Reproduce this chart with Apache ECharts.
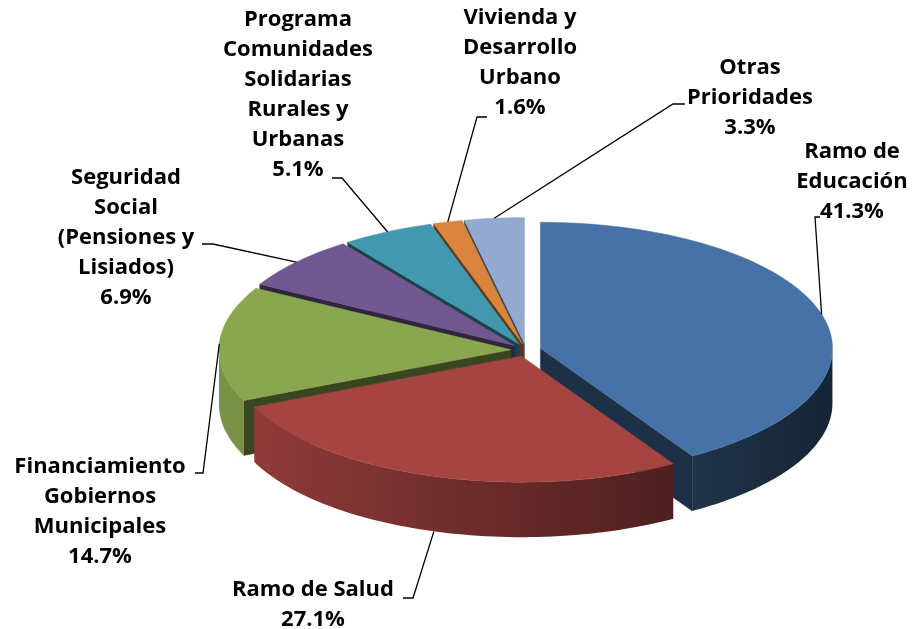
<!DOCTYPE html>
<html>
<head>
<meta charset="utf-8">
<script src="https://cdn.jsdelivr.net/npm/echarts@6/dist/echarts.min.js"></script>
<style>
  html, body { margin: 0; background: #fff; }
  #chart { width: 912px; height: 629px; }
</style>
</head>
<body>
<div id="chart"></div>
<script>
// categories (line breaks as in the chart labels) and their shares in %
const names = [
  'Ramo de\nEducación',
  'Ramo de Salud',
  'Financiamiento\nGobiernos\nMunicipales',
  'Seguridad\nSocial\n(Pensiones y\nLisiados)',
  'Programa\nComunidades\nSolidarias\nRurales y\nUrbanas',
  'Vivienda y\nDesarrollo\nUrbano',
  'Otras\nPrioridades'
];
const values = [41.3, 27.1, 14.7, 6.9, 5.1, 1.6, 3.3];
const colors = ['#4672a7', '#a64442', '#8aa64e', '#715891', '#4198af', '#db843d', '#93a9cf'];

// pseudo 3D pie geometry
const PIE = { cx: 526, cy: 350, rx: 292, ry: 126, depth: 55, explode: 15 };
const K = PIE.ry / PIE.rx;

// label placement: centre of text block + start of the leader line
const labelPos = [
  { x: 852, y: 182, line: [[820, 217], [815, 217]] },
  { x: 313, y: 605, line: [[403, 598], [413, 598]], bottom: true },
  { x: 100, y: 512, line: [[195, 473], [203, 473]] },
  { x: 126, y: 238, line: [[202, 244], [213, 244]] },
  { x: 298, y: 95, line: [[332, 178], [342, 178]] },
  { x: 520, y: 63, line: [[487, 117], [477, 117]] },
  { x: 750, y: 98, line: [[685, 104], [673, 104]] }
];

function shade(hex, f) {
  const n = parseInt(hex.slice(1), 16);
  const r = Math.round(((n >> 16) & 255) * f);
  const g = Math.round(((n >> 8) & 255) * f);
  const b = Math.round((n & 255) * f);
  return 'rgb(' + r + ',' + g + ',' + b + ')';
}

function rim(t, ox, oy, dz) {
  return [ox + PIE.rx * Math.sin(t), oy - PIE.ry * Math.cos(t) + dz];
}

function arc(t0, t1, ox, oy, dz) {
  const n = Math.max(2, Math.ceil((t1 - t0) / (Math.PI / 120)));
  const out = [];
  for (let j = 0; j <= n; j++) out.push(rim(t0 + (t1 - t0) * j / n, ox, oy, dz));
  return out;
}

const total = values.reduce((s, v) => s + v, 0);

function renderItem(params, api) {
  const i = params.dataIndex;
  const v = api.value(0);
  const before = values.slice(0, i).reduce((s, x) => s + x, 0);
  const a0 = before / total * Math.PI * 2;
  const a1 = (before + v) / total * Math.PI * 2;
  const am = (a0 + a1) / 2;
  const ox = PIE.cx + PIE.explode * Math.sin(am);
  const oy = PIE.cy - PIE.explode * Math.cos(am) * K;
  const D = PIE.depth;
  const col = colors[i];
  const children = [];

  // flat cut faces, only the ones turned to the viewer
  [[a0, a0 - Math.PI / 2], [a1, a1 + Math.PI / 2]].forEach(([t, nrm]) => {
    if (Math.cos(nrm) < -0.02) {
      const r = rim(t, ox, oy, 0);
      const pts = [[ox, oy], r, [r[0], r[1] + D], [ox, oy + D]];
      const my = pts.reduce((s, p) => s + p[1], 0) / 4;
      children.push({
        type: 'polygon', z2: 10 + my / 10,
        shape: { points: pts },
        style: { fill: shade(col, 0.42), stroke: shade(col, 0.42), lineWidth: 0.5 }
      });
    }
  });

  // outer wall, front half only
  const lo = Math.max(a0, Math.PI / 2);
  const hi = Math.min(a1, Math.PI * 1.5);
  if (hi > lo) {
    const pts = arc(lo, hi, ox, oy, 0).concat(arc(lo, hi, ox, oy, D).reverse());
    const my = pts.reduce((s, p) => s + p[1], 0) / pts.length;
    children.push({
      type: 'polygon', z2: 10 + my / 10,
      shape: { points: pts },
      style: {
        fill: new echarts.graphic.LinearGradient(PIE.cx - PIE.rx, 0, PIE.cx + PIE.rx, 0, [
          { offset: 0, color: shade(col, 0.88) },
          { offset: 1, color: shade(col, 0.33) }
        ], true)
      }
    });
  }

  // top face
  children.push({
    type: 'polygon', z2: 100,
    shape: { points: [[ox, oy]].concat(arc(a0, a1, ox, oy, 0)) },
    style: { fill: col, stroke: col, lineWidth: 0.5 }
  });

  // label + leader line
  const lp = labelPos[i];
  const anchor = rim(am, ox, oy, lp.bottom ? D : 0);
  children.push({
    type: 'polyline', z2: 190,
    shape: { points: lp.line.concat([anchor]) },
    style: { stroke: '#000', lineWidth: 1.3, fill: null }
  });
  children.push({
    type: 'text', z2: 200,
    style: {
      text: names[i] + '\n' + v.toFixed(1) + '%',
      x: lp.x, y: lp.y,
      align: 'center', verticalAlign: 'middle',
      fill: '#000',
      fontFamily: '"Open Sans"', fontWeight: 'bold', fontSize: 22,
      lineHeight: 30
    }
  });

  return { type: 'group', children: children };
}

const chart = echarts.init(document.getElementById('chart'));
chart.setOption({
  backgroundColor: '#fff',
  animation: false,
  series: [{
    type: 'custom',
    coordinateSystem: 'none',
    renderItem: renderItem,
    data: values
  }]
});
</script>
</body>
</html>
